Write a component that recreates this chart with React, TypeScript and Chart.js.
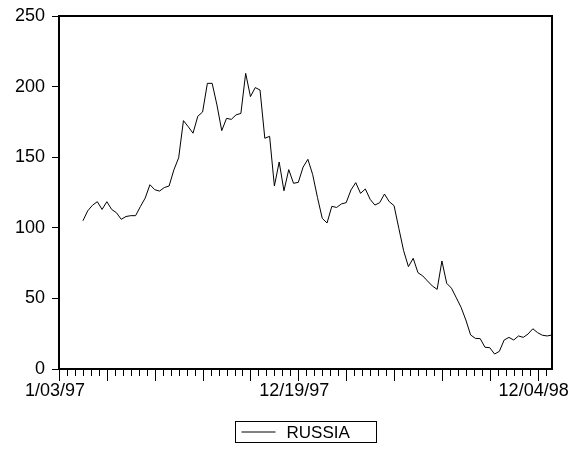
import React, { useEffect, useRef } from "react";
import { Chart, registerables } from "chart.js";

Chart.register(...registerables);

// Weekly index: 0 = 1/03/97; series starts 5 weeks in
const seriesName = "RUSSIA";
const xTickPositions = [0, 50, 100];
const xTickLabels = ["1/03/97", "12/19/97", "12/04/98"];
const xMax = 103;
const firstIndex = 5;
const russia = [
  105, 112, 116, 118.5, 113, 118.5, 113, 110.7, 106, 108,
  108.6, 108.6, 115, 121, 130.5, 127, 126, 128.5, 129.6, 141,
  149.6, 175.9, 171.6, 167, 179, 182, 202.3, 202.3, 187, 168.8,
  177.5, 176.8, 180, 181, 209.4, 192.9, 199.3, 197.6, 163.4, 164.8,
  129.6, 146.6, 126.2, 141.2, 131.5, 132.2, 143, 148.5, 137.7, 121.5,
  106.7, 103.4, 115.2, 114.4, 116.9, 117.8, 126.8, 132, 124.4, 127.5,
  120.2, 116.1, 117.8, 123.9, 118.5, 115.7, 99.6, 83.8, 72.5, 78.4,
  68.2, 65.9, 62.3, 58.8, 56.4, 76.5, 60.7, 57.2, 50.5, 43.7,
  34.7, 24.1, 21.7, 21.5, 15.4, 15.1, 10.6, 12.5, 20.5, 22.4,
  20.5, 23.4, 22.4, 24.8, 28.5, 25.7, 23.9, 23.4, 24.1,
];
const yMin = 0;
const yMax = 250;
const yStep = 50;

const FONT = "'Liberation Sans', Arial, sans-serif";

export default function App() {
  const ref = useRef<HTMLCanvasElement>(null);
  useEffect(() => {
    document.body.style.margin = "0";
    const framePlugin = {
      id: "frameAndTicks",
      afterDraw(chart: any) {
        const ctx = chart.ctx;
        const a = chart.chartArea;
        const xs = chart.scales.x;
        ctx.save();
        ctx.strokeStyle = "#000";
        // frame
        ctx.lineWidth = 2;
        ctx.strokeRect(a.left, a.top, a.right - a.left, a.bottom - a.top);
        // x ticks: majors every 10, minors every 10/6
        ctx.lineWidth = 1;
        ctx.beginPath();
        for (let k = 0; k * (10 / 6) <= xMax + 1e-6; k++) {
          const v = k * (10 / 6);
          const px = Math.round(xs.getPixelForValue(v)) + 0.5;
          const major = k % 6 === 0;
          ctx.moveTo(px, a.bottom);
          ctx.lineTo(px, a.bottom + (major ? 12 : 7));
        }
        ctx.stroke();
        // legend
        const cx = (a.left + a.right) / 2;
        const bw = 141;
        const bh = 21;
        const bx = Math.round(cx - bw / 2) + 0.5;
        const by = 421.5;
        ctx.lineWidth = 1;
        ctx.strokeRect(bx, by, bw, bh);
        ctx.beginPath();
        ctx.moveTo(bx + 6, by + bh / 2);
        ctx.lineTo(bx + 40, by + bh / 2);
        ctx.stroke();
        ctx.fillStyle = "#000";
        ctx.font = `17px ${FONT}`;
        ctx.textBaseline = "middle";
        ctx.textAlign = "left";
        ctx.fillText(chart.data.datasets[0].label, bx + 51, by + bh / 2 + 1);
        ctx.restore();
      },
    };
    const chart = new Chart(ref.current!, {
      type: "line",
      data: {
        datasets: [
          {
            label: seriesName,
            data: russia.map((v, i) => ({ x: firstIndex + i, y: v })),
            borderColor: "#000",
            borderWidth: 1,
            pointRadius: 0,
            tension: 0,
            fill: false,
          },
        ],
      },
      options: {
        animation: false,
        responsive: false,
        maintainAspectRatio: false,
        layout: { padding: { top: 16, right: 19, left: 0, bottom: 0 } },
        plugins: { legend: { display: false }, tooltip: { enabled: false } },
        scales: {
          x: {
            type: "linear",
            min: 0,
            max: xMax,
            afterBuildTicks: (s: any) => {
              s.ticks = xTickPositions.map((v) => ({ value: v }));
            },
            afterFit: (s: any) => {
              s.height = 81;
              s.paddingLeft = 0;
              s.paddingRight = 0;
            },
            ticks: {
              callback: (v: any) => {
                const i = xTickPositions.indexOf(Number(v));
                return i >= 0 ? xTickLabels[i] : "";
              },
              autoSkip: false,
              maxRotation: 0,
              color: "#000",
              padding: 11,
              labelOffset: -4,
              font: { family: FONT, size: 18 },
            },
            grid: { display: false, drawTicks: false },
            border: { display: false },
          },
          y: {
            min: yMin,
            max: yMax,
            afterFit: (s: any) => {
              s.width = 59;
              s.paddingTop = 0;
              s.paddingBottom = 0;
            },
            ticks: {
              stepSize: yStep,
              color: "#000",
              padding: 7,
              font: { family: FONT, size: 18 },
            },
            grid: {
              drawOnChartArea: false,
              drawTicks: true,
              tickLength: 7,
              color: "#000",
            },
            border: { display: false },
          },
        },
      },
      plugins: [framePlugin],
    });
    return () => chart.destroy();
  }, []);
  return (
    <div style={{ position: "fixed", left: 0, top: 0, width: 571, height: 450, background: "#fff" }}>
      <canvas ref={ref} width={571} height={450} style={{ display: "block" }} />
    </div>
  );
}
